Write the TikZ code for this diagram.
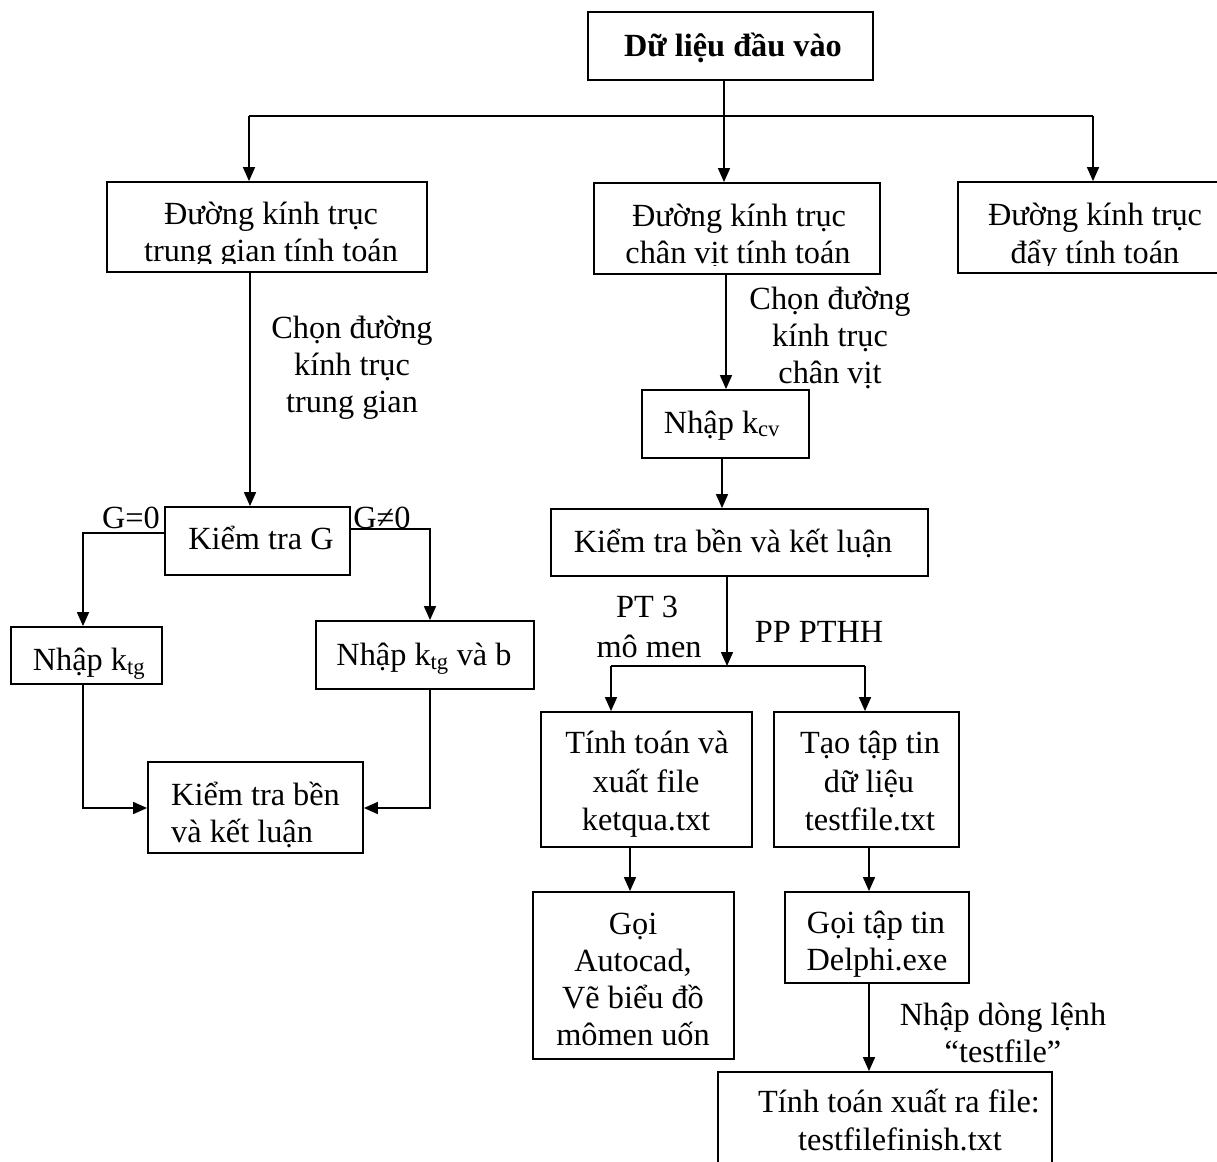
\documentclass[tikz,border=0pt]{standalone}
\usepackage{fontspec}
\setmainfont{Liberation Serif}
\usetikzlibrary{arrows.meta}
\begin{document}
\begin{tikzpicture}[x=1pt,y=-1pt,
  box/.style={draw, line width=1.8pt, inner sep=0pt},
  conn/.style={line width=1.6pt},
  arr/.style={conn,-{Triangle[length=14pt,width=12pt]}},
  lbl/.style={inner sep=0pt, anchor=base, font=\fontsize{32.3}{37}\selectfont},
]
\useasboundingbox (0,0) rectangle (1217,1161);
\clip (0,0) rectangle (1217,1161);
\fill[white] (0,0) rectangle (1217,1161);

% ---------- boxes ----------
\node[box, minimum width=285pt, minimum height=68pt] (top) at (730.5,46) {};
\node[box, minimum width=320pt, minimum height=90pt] (lbox) at (267,227) {};
\node[box, minimum width=286pt, minimum height=91pt] (mbox) at (737,228.5) {};
\node[box, minimum width=274pt, minimum height=91pt] (rbox) at (1095,227.5) {};
\node[box, minimum width=185pt, minimum height=68pt] (kg) at (257.5,541) {};
\node[box, minimum width=151pt, minimum height=57pt] (nk) at (86.5,655.5) {};
\node[box, minimum width=218pt, minimum height=68pt] (nkb) at (425,655) {};
\node[box, minimum width=215pt, minimum height=91pt] (kbl) at (255.5,807.5) {};
\node[box, minimum width=167pt, minimum height=68pt] (kcv) at (725.5,424) {};
\node[box, minimum width=377pt, minimum height=67pt] (kbm) at (739.5,542.5) {};
\node[box, minimum width=211pt, minimum height=135pt] (tt) at (646.5,779.5) {};
\node[box, minimum width=185pt, minimum height=135pt] (tao) at (866.5,779.5) {};
\node[box, minimum width=201pt, minimum height=167pt] (goi) at (633.5,975.5) {};
\node[box, minimum width=184pt, minimum height=91pt] (goit) at (877,937.5) {};
\node[box, minimum width=334pt, minimum height=128pt] (fin) at (885,1136) {};

% ---------- texts ----------
\node[lbl, font=\fontsize{32.3}{37}\selectfont\bfseries] (t-top) at (733,57) {Dữ liệu đầu vào};

\begin{scope}
  \clip (107,182) rectangle (427,263);
  \node[lbl] (t-l1) at (271,224) {Đường kính trục};
  \node[lbl] (t-l2) at (271,261) {trung gian tính toán};
\end{scope}
\begin{scope}
  \clip (594,183) rectangle (880,265);
  \node[lbl] (t-m1) at (739,226) {Đường kính trục};
  \node[lbl] (t-m2) at (738,263) {chân vịt tính toán};
\end{scope}
\begin{scope}
  \clip (958,182) rectangle (1232,265);
  \node[lbl] (t-r1) at (1095,225) {Đường kính trục};
  \node[lbl] (t-r2) at (1095,263) {đẩy tính toán};
\end{scope}

\node[lbl] (c-l1) at (352,338) {Chọn đường};
\node[lbl] (c-l2) at (352,375) {kính trục};
\node[lbl] (c-l3) at (352,412) {trung gian};

\node[lbl] (c-m1) at (830,309) {Chọn đường};
\node[lbl] (c-m2) at (830,346) {kính trục};
\node[lbl] (c-m3) at (830,383) {chân vịt};

\node[lbl] (t-kcv) at (722,433) {Nhập k\textsubscript{cv}};
\node[lbl] (t-kg) at (261,549) {Kiểm tra G};
\node[lbl] (t-g0) at (131,528) {G=0};
\node[lbl] (t-g1) at (382,528) {G≠0};
\node[lbl] (t-nk) at (89,670) {Nhập k\textsubscript{tg}};
\node[lbl] (t-nkb) at (424,665) {Nhập k\textsubscript{tg} và b};
\node[lbl, anchor=base west] (t-kbl1) at (171,805) {Kiểm tra bền};
\node[lbl, anchor=base west] (t-kbl2) at (171,842) {và kết luận};

\node[lbl] (t-kbm) at (733,552) {Kiểm tra bền và kết luận};
\node[lbl] (t-pt1) at (647,617) {PT 3};
\node[lbl] (t-pt2) at (649,657) {mô men};
\node[lbl] (t-pp) at (819,642) {PP PTHH};

\node[lbl] (t-tt1) at (647,753) {Tính toán và};
\node[lbl] (t-tt2) at (646,792) {xuất file};
\node[lbl] (t-tt3) at (646,830) {ketqua.txt};

\node[lbl] (t-tao1) at (870,753) {Tạo tập tin};
\node[lbl] (t-tao2) at (869,792) {dữ liệu};
\node[lbl] (t-tao3) at (870,830) {testfile.txt};

\node[lbl] (t-goi1) at (633,934) {Gọi};
\node[lbl] (t-goi2) at (633,971) {Autocad,};
\node[lbl] (t-goi3) at (633,1008) {Vẽ biểu đồ};
\node[lbl] (t-goi4) at (633,1045) {mômen uốn};

\node[lbl] (t-gt1) at (876,933) {Gọi tập tin};
\node[lbl] (t-gt2) at (877,970) {Delphi.exe};

\node[lbl] (t-nd1) at (1003,1025) {Nhập dòng lệnh};
\node[lbl] (t-nd2) at (1003,1062) {“testfile”};

\node[lbl] (t-fin1) at (899,1112) {Tính toán xuất ra file:};
\node[lbl] (t-fin2) at (900,1150) {testfilefinish.txt};

% ---------- connectors ----------
\coordinate (bL) at (249,116);
\coordinate (bM) at (724,116);
\coordinate (bR) at (1093,116);
\draw[conn] (top.south -| bM) -- (bM);
\draw[conn] (bL) -- (bR);
\draw[arr] (bL) -- (lbox.north -| bL);
\draw[arr] (bM) -- (mbox.north -| bM);
\draw[arr] (bR) -- (rbox.north -| bR);

\coordinate (xL) at (250,0);
\draw[arr] (lbox.south -| xL) -- (kg.north -| xL);
\coordinate (g0) at (83,533);
\coordinate (g1) at (430,529);
\draw[arr] (kg.west |- g0) -- (g0) -- (nk.north -| g0);
\draw[arr] (kg.east |- g1) -- (g1) -- (nkb.north -| g1);
\coordinate (m0) at (83,808);
\coordinate (m1) at (430,808);
\draw[arr] (nk.south -| m0) -- (m0) -- (kbl.west |- m0);
\draw[arr] (nkb.south -| m1) -- (m1) -- (kbl.east |- m1);

\coordinate (xM1) at (726,0);
\coordinate (xM2) at (722,0);
\draw[arr] (mbox.south -| xM1) -- (kcv.north -| xM1);
\draw[arr] (kcv.south -| xM2) -- (kbm.north -| xM2);
\coordinate (j2) at (727,666);
\coordinate (b2L) at (611,666);
\coordinate (b2R) at (865,666);
\draw[arr] (kbm.south -| j2) -- (j2);
\draw[conn] (b2L) -- (b2R);
\draw[arr] (b2L) -- (tt.north -| b2L);
\draw[arr] (b2R) -- (tao.north -| b2R);
\coordinate (xA) at (630,0);
\coordinate (xB) at (869,0);
\draw[arr] (tt.south -| xA) -- (goi.north -| xA);
\draw[arr] (tao.south -| xB) -- (goit.north -| xB);
\draw[arr] (goit.south -| xB) -- (fin.north -| xB);
\end{tikzpicture}
\end{document}
